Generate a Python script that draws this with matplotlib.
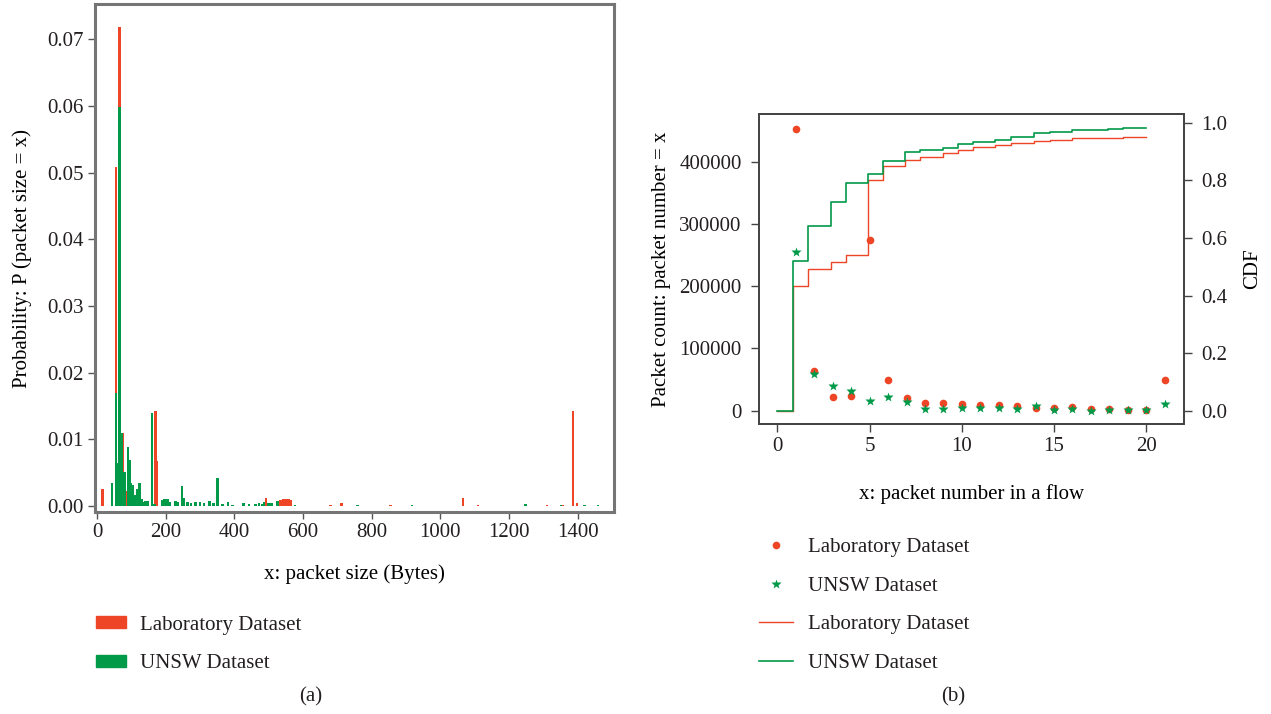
import matplotlib
matplotlib.use("Agg")
import matplotlib.pyplot as plt
from matplotlib.patches import Patch
from matplotlib.lines import Line2D

plt.rcParams['font.family'] = ['Liberation Serif', 'DejaVu Serif']
plt.rcParams['font.size'] = 15
plt.rcParams['text.color'] = '#231F20'

RED = '#EE4526'
GREEN = '#009A48'

# ---------------- Panel (a): packet size distribution ----------------
lab_sizes = [16, 56, 65, 76, 85, 118, 170, 175, 492, 535, 541, 547, 553, 559, 565,
             680, 712, 855, 1066, 1110, 1310, 1357, 1386, 1398]
lab_probs = [0.0025, 0.0509, 0.0719, 0.0110, 0.0023, 0.0016, 0.0143, 0.0068, 0.0012,
             0.0009, 0.0010, 0.0010, 0.0010, 0.0010, 0.0009,
             0.0002, 0.0004, 0.0002, 0.00115, 0.0001, 0.0002, 0.0002, 0.0143, 0.0004]

unsw_sizes = [44, 56, 59, 62, 65, 70, 73, 80, 90, 94, 99, 104, 109, 117, 124, 129,
              136, 141, 148, 160, 167, 190, 197, 205, 213, 229, 236, 248, 253, 263,
              273, 287, 300, 312, 327, 339, 351, 366, 382, 395, 427, 442, 462, 472,
              482, 487, 498, 505, 510, 526, 576, 759, 917, 1248, 1352, 1420, 1460]
unsw_probs = [0.0034, 0.0170, 0.0065, 0.0010, 0.0598, 0.0012, 0.0109, 0.0051, 0.0089,
              0.0069, 0.0034, 0.0032, 0.0017, 0.0025, 0.0034, 0.0010, 0.0006, 0.0008,
              0.0008, 0.0139, 0.0003, 0.0009, 0.0010, 0.0010, 0.0006, 0.0008, 0.0006,
              0.0030, 0.0012, 0.0006, 0.0005, 0.0006, 0.0006, 0.0004, 0.0008, 0.0004,
              0.0042, 0.0003, 0.0006, 0.0002, 0.0004, 0.0003, 0.0003, 0.0004, 0.0003,
              0.0006, 0.0004, 0.0004, 0.0004, 0.0008, 0.0002, 0.0001, 0.0002, 0.0003,
              0.0002, 0.0001, 0.0001]

a_xticks = [0, 200, 400, 600, 800, 1000, 1200, 1400]
a_yticks = [0.00, 0.01, 0.02, 0.03, 0.04, 0.05, 0.06, 0.07]

# ---------------- Panel (b): packet number in a flow ----------------
pkt_num = list(range(1, 22))
lab_counts = [453000, 64000, 22000, 23000, 274000, 50000, 20000, 12500, 13000, 11000,
              9500, 9000, 7000, 4500, 5000, 6500, 3000, 2000, 1000, 500, 50000]
unsw_counts = [255000, 59000, 40000, 31000, 15500, 22500, 14000, 3000, 2000, 4500,
               4000, 4500, 3500, 7000, 1500, 2500, 0, 500, 1000, 1000, 10000]

cdf_x = [0, 0.83, 1.65, 2.9, 3.7, 4.9, 5.72, 6.92, 7.75, 8.97, 9.79, 10.6, 11.82,
         12.69, 13.9, 14.77, 15.95, 17.05, 17.93, 18.76, 20.0]
lab_cdf = [0, 0.434, 0.491, 0.516, 0.540, 0.801, 0.849, 0.869, 0.882, 0.895, 0.905,
           0.916, 0.924, 0.931, 0.936, 0.939, 0.945, 0.948, 0.948, 0.950, 0.951]
unsw_cdf = [0, 0.521, 0.642, 0.725, 0.790, 0.823, 0.867, 0.898, 0.906, 0.912, 0.925,
            0.932, 0.941, 0.950, 0.964, 0.968, 0.973, 0.973, 0.977, 0.980, 0.981]

b_xticks = [0, 5, 10, 15, 20]
b_yticks = [0, 100000, 200000, 300000, 400000]
b_cdfticks = [0.0, 0.2, 0.4, 0.6, 0.8, 1.0]

W, H = 1271, 714
FS = 15
fig = plt.figure(figsize=(W / 100, H / 100), dpi=100)

def rect(l, t, r, b):
    return [l / W, 1 - b / H, (r - l) / W, (b - t) / H]

# ----- (a)
ax = fig.add_axes(rect(95, 4, 614, 512))
ax.bar(lab_sizes, lab_probs, width=7, color=RED, linewidth=0)
ax.bar(unsw_sizes, unsw_probs, width=7, color=GREEN, linewidth=0)
ax.set_xlim(-6, 1506)
ax.set_ylim(-0.0009, 0.0753)
ax.set_xticks(a_xticks)
ax.set_yticks(a_yticks)
ax.set_yticklabels([f"{v:.2f}" for v in a_yticks])
for s in ax.spines.values():
    s.set_color('#757575')
    s.set_linewidth(2.2)
ax.tick_params(direction='out', length=5, width=1, color='#555555', labelcolor='#231F20',
               labelsize=FS, pad=3)
ax.set_xlabel("x: packet size (Bytes)", fontsize=FS, labelpad=16)
ax.set_ylabel("Probability: P (packet size = x)", fontsize=FS, labelpad=11)

fig.legend(handles=[Patch(color=RED, label="Laboratory Dataset"),
                    Patch(color=GREEN, label="UNSW Dataset")],
           loc='upper left', bbox_to_anchor=(77 / W, 1 - 597 / H), frameon=False,
           fontsize=FS, handlelength=1.44, handleheight=0.5, handletextpad=0.68,
           labelspacing=0.93)
fig.text(311 / W, 1 - 697 / H, "(a)", ha='center', va='center', fontsize=FS)

# ----- (b)
bx = fig.add_axes(rect(759, 114, 1184, 424))
bx2 = bx.twinx()
bx2.step(cdf_x, lab_cdf, where='post', color=RED, lw=1.0, zorder=2)
bx2.step(cdf_x, unsw_cdf, where='post', color=GREEN, lw=1.2, zorder=3)
bx.plot(pkt_num, lab_counts, 'o', ms=5.5, color=RED, mec='none')
bx.plot(pkt_num, unsw_counts, '*', ms=7, color=GREEN, mec='none')
bx.set_zorder(bx2.get_zorder() + 1)
bx.patch.set_visible(False)
bx.set_xlim(-1, 22.05)
bx.set_ylim(-21400, 476600)
bx2.set_ylim(-0.046, 1.030)
bx.set_xticks(b_xticks)
bx.set_yticks(b_yticks)
bx.set_yticklabels([str(v) for v in b_yticks])
bx2.set_yticks(b_cdfticks)
bx2.set_yticklabels([f"{v:.1f}" for v in b_cdfticks])
for a in (bx, bx2):
    for s in a.spines.values():
        s.set_color('#444444')
        s.set_linewidth(1.3)
    a.tick_params(direction='out', length=5.5, width=1, color='#444444', labelcolor='#231F20',
                  labelsize=FS)
    a.tick_params(axis='y', pad=7)
    a.tick_params(axis='x', pad=4)
bx.set_xlabel("x: packet number in a flow", fontsize=FS, labelpad=20)
bx.set_ylabel("Packet count: packet number = x", fontsize=FS, labelpad=6)
bx2.set_ylabel("CDF", fontsize=FS, labelpad=11)

fig.legend(handles=[Line2D([], [], marker='o', ls='none', ms=5.5, color=RED, mec='none',
                           label="Laboratory Dataset"),
                    Line2D([], [], marker='*', ls='none', ms=7, color=GREEN, mec='none',
                           label="UNSW Dataset"),
                    Line2D([], [], color=RED, lw=1.0, label="Laboratory Dataset"),
                    Line2D([], [], color=GREEN, lw=1.2, label="UNSW Dataset")],
           loc='upper left', bbox_to_anchor=(740 / W, 1 - 519 / H), frameon=False,
           fontsize=FS, handlelength=1.63, handletextpad=0.72, labelspacing=0.91)
fig.text(953 / W, 1 - 697 / H, "(b)", ha='center', va='center', fontsize=FS)

fig.savefig("out.png", dpi=100)
